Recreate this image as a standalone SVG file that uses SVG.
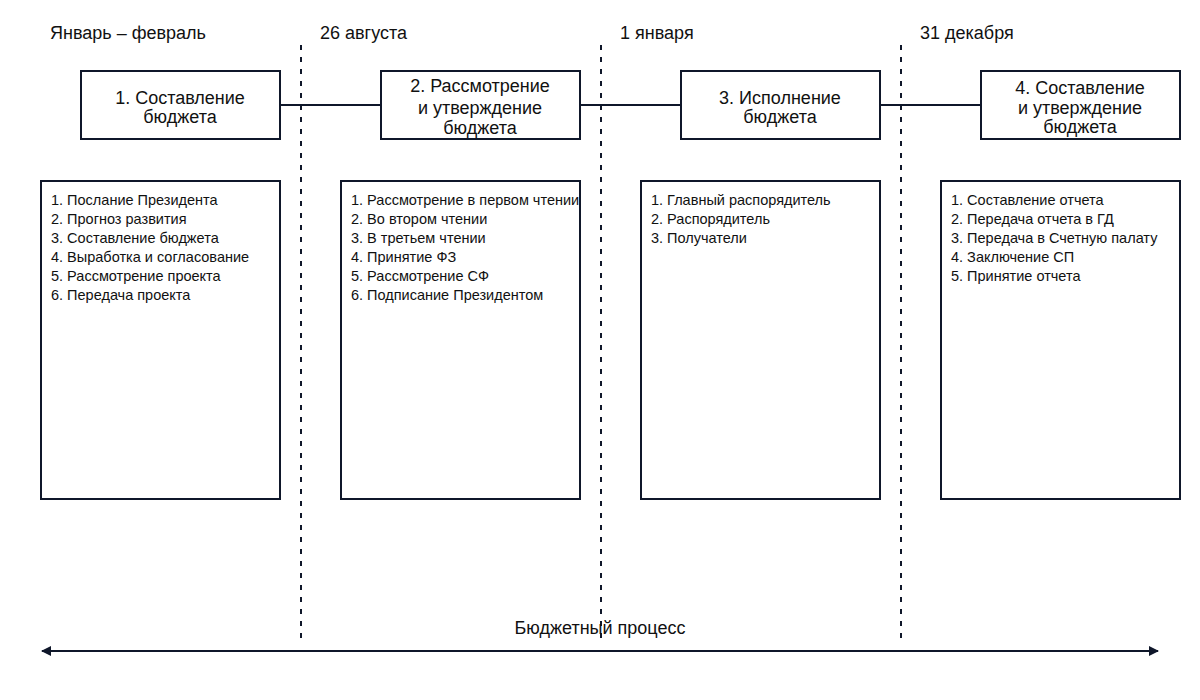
<svg xmlns="http://www.w3.org/2000/svg" width="1200" height="700" viewBox="0 0 1200 700">
<style>
.b{fill:#fff;stroke:#0f172a;stroke-width:2}
.t{font-family:"Liberation Sans",Arial,sans-serif;font-size:18px;fill:#111;text-anchor:middle}
.h{font-family:"Liberation Sans",Arial,sans-serif;font-size:18px;fill:#111}
.l{font-family:"Liberation Sans",Arial,sans-serif;font-size:14.5px;fill:#111}
.c{stroke:#0f172a;stroke-width:2;fill:none}
.d{stroke:#0f172a;stroke-width:2;stroke-dasharray:5,7}
</style>
<defs>
<marker id="a" viewBox="0 0 10 10" refX="9" refY="5" markerWidth="5" markerHeight="5" orient="auto-start-reverse"><path d="M0,0L10,5L0,10z" fill="#0f172a"/></marker>
</defs>
<rect width="1200" height="700" fill="#fff"/>
<g id="dates">
<text class="h" x="50" y="39">Январь – февраль</text>
<text class="h" x="320" y="39">26 августа</text>
<text class="h" x="620" y="39">1 января</text>
<text class="h" x="920" y="39">31 декабря</text>
</g>
<g id="connectors">
<line class="d" x1="301" y1="45" x2="301" y2="640"/>
<line class="d" x1="601" y1="45" x2="601" y2="640"/>
<line class="d" x1="901" y1="45" x2="901" y2="640"/>
<line class="c" x1="280" y1="105" x2="381" y2="105"/>
<line class="c" x1="580" y1="105" x2="681" y2="105"/>
<line class="c" x1="880" y1="105" x2="981" y2="105"/>
<line class="c" x1="42" y1="651" x2="1158" y2="651" marker-start="url(#a)" marker-end="url(#a)"/>
<text class="t" x="600" y="634">Бюджетный процесс</text>
</g>
<g id="s1"><rect class="b" x="81" y="71" width="199" height="68"/><text class="t" x="180" y="104">1. Составление</text><text class="t" x="180" y="123">бюджета</text></g>
<g id="s2"><rect class="b" x="381" y="71" width="199" height="68"/><text class="t" x="480" y="92">2. Рассмотрение</text><text class="t" x="480" y="114">и утверждение</text><text class="t" x="480" y="134">бюджета</text></g>
<g id="s3"><rect class="b" x="681" y="71" width="199" height="68"/><text class="t" x="780" y="104">3. Исполнение</text><text class="t" x="780" y="123">бюджета</text></g>
<g id="s4"><rect class="b" x="981" y="71" width="199" height="68"/><text class="t" x="1080" y="94">4. Составление</text><text class="t" x="1080" y="114">и утверждение</text><text class="t" x="1080" y="133">бюджета</text></g>
<g id="l1"><rect class="b" x="41" y="181" width="239" height="318"/>
<text class="l" x="51" y="205">1. Послание Президента</text><text class="l" x="51" y="224">2. Прогноз развития</text><text class="l" x="51" y="243">3. Составление бюджета</text><text class="l" x="51" y="262">4. Выработка и согласование</text><text class="l" x="51" y="281">5. Рассмотрение проекта</text><text class="l" x="51" y="300">6. Передача проекта</text></g>
<g id="l2"><rect class="b" x="341" y="181" width="239" height="318"/>
<text class="l" x="351" y="205">1. Рассмотрение в первом чтении</text><text class="l" x="351" y="224">2. Во втором чтении</text><text class="l" x="351" y="243">3. В третьем чтении</text><text class="l" x="351" y="262">4. Принятие ФЗ</text><text class="l" x="351" y="281">5. Рассмотрение СФ</text><text class="l" x="351" y="300">6. Подписание Президентом</text></g>
<g id="l3"><rect class="b" x="641" y="181" width="239" height="318"/>
<text class="l" x="651" y="205">1. Главный распорядитель</text><text class="l" x="651" y="224">2. Распорядитель</text><text class="l" x="651" y="243">3. Получатели</text></g>
<g id="l4"><rect class="b" x="941" y="181" width="239" height="318"/>
<text class="l" x="951" y="205">1. Составление отчета</text><text class="l" x="951" y="224">2. Передача отчета в ГД</text><text class="l" x="951" y="243">3. Передача в Счетную палату</text><text class="l" x="951" y="262">4. Заключение СП</text><text class="l" x="951" y="281">5. Принятие отчета</text></g>
</svg>
